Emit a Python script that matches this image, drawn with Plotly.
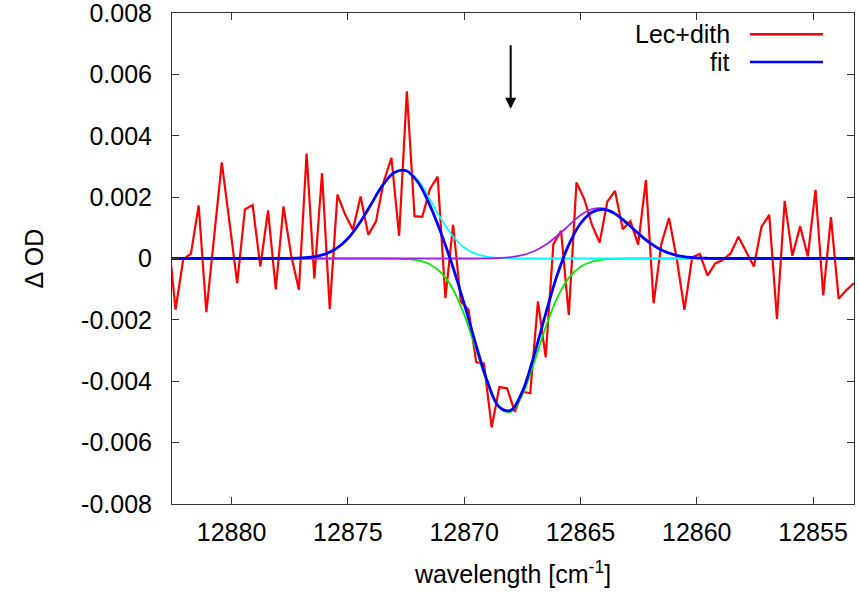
import plotly.graph_objects as go

# ---------------- data ----------------
# measured spectrum (Lec+dith), evenly spaced samples
wn_start = 12882.74
wn_step = 0.3315
od_data = [
    0.0009, -0.00167, -0.00003, 0.00016, 0.00173, -0.00175, 0.0007, 0.00313, 0.00117, -0.0008,
    0.0016, 0.00174, -0.00026, 0.00157, -0.00101, 0.0017, 0.0001, -0.00102, 0.00342, -0.00065,
    0.00278, -0.00165, 0.00208, 0.00143, 0.00094, 0.00202, 0.00077, 0.00121, 0.00251, 0.00328,
    0.00074, 0.00545, 0.00138, 0.00136, 0.00227, 0.00267, -0.00129, 0.0011, -0.0014, -0.00167,
    -0.00338, -0.00342, -0.0055, -0.00419, -0.00423, -0.005, -0.00434, -0.00439, -0.0014, -0.00322,
    0.00047, 0.0009, -0.00184, 0.00248, 0.00194, 0.0011, 0.00052, 0.00185, 0.0022, 0.00095,
    0.00122, 0.00045, 0.00256, -0.00146, 0.00047, 0.00132, 0.0, -0.00167, 0.00004, 0.00015,
    -0.00056, -0.00016, -0.00004, 0.00017, 0.00071, 0.00023, -0.00026, 0.00104, 0.00142, -0.00197,
    0.00188, 0.00009, 0.00105, 0.00007, 0.00224, -0.0012, 0.00135, -0.00131, -0.00103, -0.0008,
]
wn_data = [round(wn_start - wn_step * i, 4) for i in range(len(od_data))]

# fit curves
wn_fit = [12883.0, 12878.0, 12877.5, 12877.0, 12876.5, 12876.0, 12875.5, 12875.0, 12874.5, 12874.0,
          12873.5, 12873.0, 12872.5, 12872.0, 12871.5, 12871.0, 12870.5, 12870.0, 12869.5, 12869.0,
          12868.5, 12868.0, 12867.5, 12867.0, 12866.5, 12866.0, 12865.5, 12865.0, 12864.5, 12864.0,
          12863.5, 12863.0, 12862.5, 12862.0, 12861.5, 12861.0, 12860.5, 12860.0, 12859.5, 12859.0,
          12853.0]
fit_cyan = [0, 0, 0.000005, 0.000018, 0.000053, 0.00014, 0.00032, 0.00065, 0.00115, 0.00177,
            0.00239, 0.00281, 0.00288, 0.00256, 0.00196, 0.0013, 0.00074, 0.00036, 0.000154, 0.000056,
            0.000018, 0.000005, 0, 0, 0, 0, 0, 0, 0, 0,
            0, 0, 0, 0, 0, 0, 0, 0, 0, 0,
            0]
fit_green = [0, 0, 0, 0, 0, 0, 0, 0, 0, 0,
             0, -0.000005, -0.000019, -0.000063, -0.00018, -0.000456, -0.00098, -0.00183, -0.00294, -0.00407,
             -0.00486, -0.005, -0.00445, -0.00341, -0.00225, -0.00128, -0.00063, -0.00027, -0.000098, -0.000031,
             -0.0000085, 0, 0, 0, 0, 0, 0, 0, 0, 0,
             0]
fit_purple = [0, 0, 0, 0, 0, 0, 0, 0, 0, 0,
              0, 0, 0, 0, 0, 0, 0, 0, 0, 0.000005,
              0.000017, 0.000046, 0.00011, 0.000236, 0.000444, 0.00074, 0.00108, 0.00141, 0.00161, 0.00163,
              0.00146, 0.00115, 0.00081, 0.0005, 0.00027, 0.00013, 0.000055, 0.000021, 0.000007, 0,
              0]
fit_total = [0, 0, 0.000005, 0.000018, 0.000053, 0.00014, 0.00032, 0.00065, 0.00115, 0.00177,
             0.00239, 0.0028, 0.00286, 0.0025, 0.00178, 0.00084, -0.00024, -0.00147, -0.00279, -0.00401,
             -0.00483, -0.00495, -0.00434, -0.00317, -0.00181, -0.00054, 0.00045, 0.00114, 0.00151, 0.0016,
             0.00145, 0.00115, 0.00081, 0.0005, 0.00027, 0.00013, 0.000055, 0.000021, 0.000007, 0,
             0]

x_ticks = [12880, 12875, 12870, 12865, 12860, 12855]
x_ticktext = ["12880", "12875", "12870", "12865", "12860", "12855"]
y_ticks = [0.008, 0.006, 0.004, 0.002, 0, -0.002, -0.004, -0.006, -0.008]
y_ticktext = ["0.008", "0.006", "0.004", "0.002", "0", "-0.002", "-0.004", "-0.006", "-0.008"]
arrow_wn = 12868.0
arrow_from, arrow_to = 0.0070, 0.00488

# ---------------- figure ----------------
FONT = "Liberation Sans, Arial, sans-serif"
FS = 25
fig = go.Figure()
fig.add_trace(go.Scatter(x=wn_data, y=od_data, mode="lines", name="Lec+dith",
                         line=dict(color="#ff0000", width=2.2)))
fig.add_trace(go.Scatter(x=wn_fit, y=fit_green, mode="lines", line=dict(color="#00ee00", width=1.8, shape="spline")))
fig.add_trace(go.Scatter(x=wn_fit, y=fit_cyan, mode="lines", line=dict(color="#00ffff", width=1.8, shape="spline")))
fig.add_trace(go.Scatter(x=wn_fit, y=fit_purple, mode="lines", line=dict(color="#a020f0", width=1.8, shape="spline")))
fig.add_trace(go.Scatter(x=wn_fit, y=fit_total, mode="lines", name="fit",
                         line=dict(color="#0000ff", width=2.8, shape="spline")))

axis_common = dict(showline=True, linecolor="#333333", linewidth=1, mirror="ticks",
                   ticks="inside", ticklen=7, tickcolor="#333333", showgrid=False, zeroline=False,
                   ticklabeloverflow="allow", automargin=False,
                   tickfont=dict(family=FONT, size=FS, color="#000000"))
fig.update_xaxes(range=[12882.56, 12853.24], tickvals=x_ticks, ticktext=x_ticktext, ticklabelstandoff=6,
                 title=dict(text="wavelength [cm<sup>-1</sup>]", font=dict(family=FONT, size=FS, color="#000"),
                            standoff=20),
                 **axis_common)
fig.update_yaxes(range=[-0.008, 0.008], tickvals=y_ticks, ticktext=y_ticktext, ticklabelstandoff=14,
                 title=dict(text="Δ OD", font=dict(family=FONT, size=FS, color="#000"), standoff=30),
                 **axis_common)

fig.add_annotation(x=arrow_wn, y=arrow_to, ax=arrow_wn, ay=arrow_from, xref="x", yref="y",
                   axref="x", ayref="y", text="", showarrow=True, arrowhead=2, arrowsize=1.1,
                   arrowwidth=2, arrowcolor="#000000")

# gnuplot-style key (text right, sample line to its right)
for label, color, ypos in [("Lec+dith", "#ff0000", 0.9566), ("fit", "#0000ff", 0.9003)]:
    fig.add_annotation(x=0.821, y=ypos, xref="paper", yref="paper", text=label, showarrow=False,
                       xanchor="right", yanchor="middle", font=dict(family=FONT, size=FS, color="#000"))
    fig.add_shape(type="line", xref="paper", yref="paper", x0=0.8475, x1=0.9545, y0=ypos, y1=ypos,
                  line=dict(color=color, width=2.5))

fig.update_layout(width=858, height=597, margin=dict(l=172, r=4, t=13, b=93),
                  plot_bgcolor="white", paper_bgcolor="white", showlegend=False,
                  font=dict(family=FONT, size=FS, color="#000"))
fig.write_html("out.html")
